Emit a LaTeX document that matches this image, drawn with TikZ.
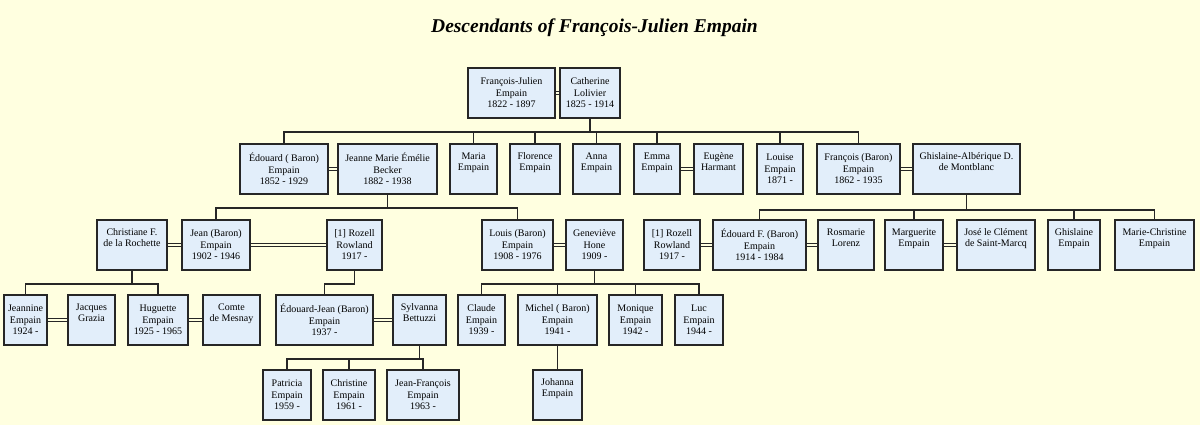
\documentclass[tikz,border=0pt]{standalone}
\usepackage{fontspec}
\setmainfont{Liberation Serif}
\definecolor{paper}{RGB}{255,255,224}
\definecolor{boxblue}{RGB}{226,238,250}
\begin{document}
\begin{tikzpicture}[x=1pt,y=-1pt,
  person/.style={draw=black!85,fill=boxblue,line width=1.6pt,minimum height=50pt,inner sep=0pt,align=center,font=\fontsize{10}{11.5}\selectfont},
  wed/.style={draw=black!85,line width=1.2pt,double=paper,double distance=2pt},
  kin/.style={draw=black!85,line width=1.5pt}]
\fill[paper] (0,0) rectangle (1200,425);

% Title
\node[anchor=base,font=\fontsize{19.5}{22}\selectfont\bfseries\itshape] (heading) at (594.5,33) {Descendants of François-Julien Empain};

% Generation 1
\node[person,minimum width=87pt] (fj)  at (511.5,93) {François-Julien\\Empain\\1822 - 1897};
\node[person,minimum width=60pt] (cat) at (590,93) {Catherine\\Lolivier\\1825 - 1914};

% Generation 2
\node[person,minimum width=88pt]  (ed)         at (284,169)   {Édouard ( Baron)\\Empain\\1852 - 1929};
\node[person,minimum width=99pt]  (jeanne)     at (387.5,169) {Jeanne Marie Émélie\\Becker\\1882 - 1938};
\node[person,minimum width=47pt]  (maria)      at (473.5,169) {Maria\\Empain\\\strut};
\node[person,minimum width=50pt]  (florence)   at (535,169)   {Florence\\Empain\\\strut};
\node[person,minimum width=47pt]  (anna)       at (596.5,169) {Anna\\Empain\\\strut};
\node[person,minimum width=46pt]  (emma)       at (657,169)   {Emma\\Empain\\\strut};
\node[person,minimum width=49pt]  (eugene)     at (718.5,169) {Eugène\\Harmant\\\strut};
\node[person,minimum width=46pt]  (louise)     at (780,169)   {Louise\\Empain\\1871 -};
\node[person,minimum width=83pt]  (francois)   at (858.5,169) {François (Baron)\\Empain\\1862 - 1935};
\node[person,minimum width=107pt] (ghislaineA) at (966.5,169) {Ghislaine-Albérique D.\\de Montblanc\\\strut};

% Generation 3
\node[person,minimum width=70pt] (christiane) at (132,245)    {Christiane F.\\de la Rochette\\\strut};
\node[person,minimum width=68pt] (jean)       at (216,245)    {Jean (Baron)\\Empain\\1902 - 1946};
\node[person,minimum width=55pt] (rozell)     at (354.5,245)  {[1] Rozell\\Rowland\\1917 -};
\node[person,minimum width=71pt] (louis)      at (517.5,245)  {Louis (Baron)\\Empain\\1908 - 1976};
\node[person,minimum width=57pt] (genevieve)  at (594.5,245)  {Geneviève\\Hone\\1909 -};
\node[person,minimum width=56pt] (rozellb)    at (672,245)    {[1] Rozell\\Rowland\\1917 -};
\node[person,minimum width=93pt] (edouardf)   at (759.5,245)  {Édouard F. (Baron)\\Empain\\1914 - 1984};
\node[person,minimum width=56pt] (rosmarie)   at (846,245)    {Rosmarie\\Lorenz\\\strut};
\node[person,minimum width=58pt] (marguerite) at (914,245)    {Marguerite\\Empain\\\strut};
\node[person,minimum width=78pt] (jose)       at (996,245)    {José le Clément\\de Saint-Marcq\\\strut};
\node[person,minimum width=52pt] (ghislaine)  at (1074,245)   {Ghislaine\\Empain\\\strut};
\node[person,minimum width=79pt] (mariec)     at (1154.5,245) {Marie-Christine\\Empain\\\strut};

% Generation 4
\node[person,minimum width=43pt] (jeannine) at (25.5,320)  {Jeannine\\Empain\\1924 -};
\node[person,minimum width=47pt] (jacques)  at (91.5,320)  {Jacques\\Grazia\\\strut};
\node[person,minimum width=60pt] (huguette) at (158,320)   {Huguette\\Empain\\1925 - 1965};
\node[person,minimum width=57pt] (comte)    at (231.5,320) {Comte\\de Mesnay\\\strut};
\node[person,minimum width=97pt] (edouardj) at (324.5,320) {Édouard-Jean (Baron)\\Empain\\1937 -};
\node[person,minimum width=53pt] (sylvanna) at (419.5,320) {Sylvanna\\Bettuzzi\\\strut};
\node[person,minimum width=47pt] (claude)   at (481.5,320) {Claude\\Empain\\1939 -};
\node[person,minimum width=79pt] (michel)   at (557.5,320) {Michel ( Baron)\\Empain\\1941 -};
\node[person,minimum width=53pt] (monique)  at (635.5,320) {Monique\\Empain\\1942 -};
\node[person,minimum width=48pt] (luc)      at (699,320)   {Luc\\Empain\\1944 -};

% Generation 5
\node[person,minimum width=48pt] (patricia)  at (287,395)   {Patricia\\Empain\\1959 -};
\node[person,minimum width=52pt] (christine) at (349,395)   {Christine\\Empain\\1961 -};
\node[person,minimum width=72pt] (jeanfr)    at (423,395)   {Jean-François\\Empain\\1963 -};
\node[person,minimum width=49pt] (johanna)   at (557.5,395) {Johanna\\Empain\\\strut};

% Marriages
\draw[wed] (fj) -- (cat);
\draw[wed] (ed) -- (jeanne);
\draw[wed] (emma) -- (eugene);
\draw[wed] (francois) -- (ghislaineA);
\draw[wed] (christiane) -- (jean);
\draw[wed] (jean) -- (rozell);
\draw[wed] (louis) -- (genevieve);
\draw[wed] (rozellb) -- (edouardf);
\draw[wed] (edouardf) -- (rosmarie);
\draw[wed] (marguerite) -- (jose);
\draw[wed] (jeannine) -- (jacques);
\draw[wed] (huguette) -- (comte);
\draw[wed] (edouardj) -- (sylvanna);

% Children of Catherine
\draw[kin] (cat.south) -- ++(0,13) coordinate (g1);
\draw[kin] (ed.north) |- (g1) -| (francois.north);
\foreach \c in {maria,florence,anna,emma,louise}
  \draw[kin] (\c.north) -- (\c.north |- g1);

% Children of Jeanne
\draw[kin] (jeanne.south) -- ++(0,13) coordinate (g2);
\draw[kin] (jean.north) |- (g2) -| (louis.north);

% Children of Ghislaine-Albérique
\draw[kin] (ghislaineA.south) -- ++(0,15) coordinate (g3);
\draw[kin] (edouardf.north) |- (g3) -| (mariec.north);
\foreach \c in {marguerite,ghislaine}
  \draw[kin] (\c.north) -- (\c.north |- g3);

% Children of Christiane and Rozell
\draw[kin] (christiane.south) -- ++(0,13) coordinate (g4);
\draw[kin] (jeannine.north) |- (g4) -| (huguette.north);
\draw[kin] (rozell.south) -- ++(0,13) -| (edouardj.north);

% Children of Genevieve
\draw[kin] (genevieve.south) -- ++(0,13) coordinate (g5);
\draw[kin] (claude.north) |- (g5) -| (luc.north);
\foreach \c in {michel,monique}
  \draw[kin] (\c.north) -- (\c.north |- g5);

% Children of Sylvanna and Michel
\draw[kin] (sylvanna.south) -- ++(0,13) coordinate (g6);
\draw[kin] (patricia.north) |- (g6) -| (jeanfr.north);
\draw[kin] (christine.north) -- (christine.north |- g6);
\draw[kin] (michel) -- (johanna);
\end{tikzpicture}
\end{document}
